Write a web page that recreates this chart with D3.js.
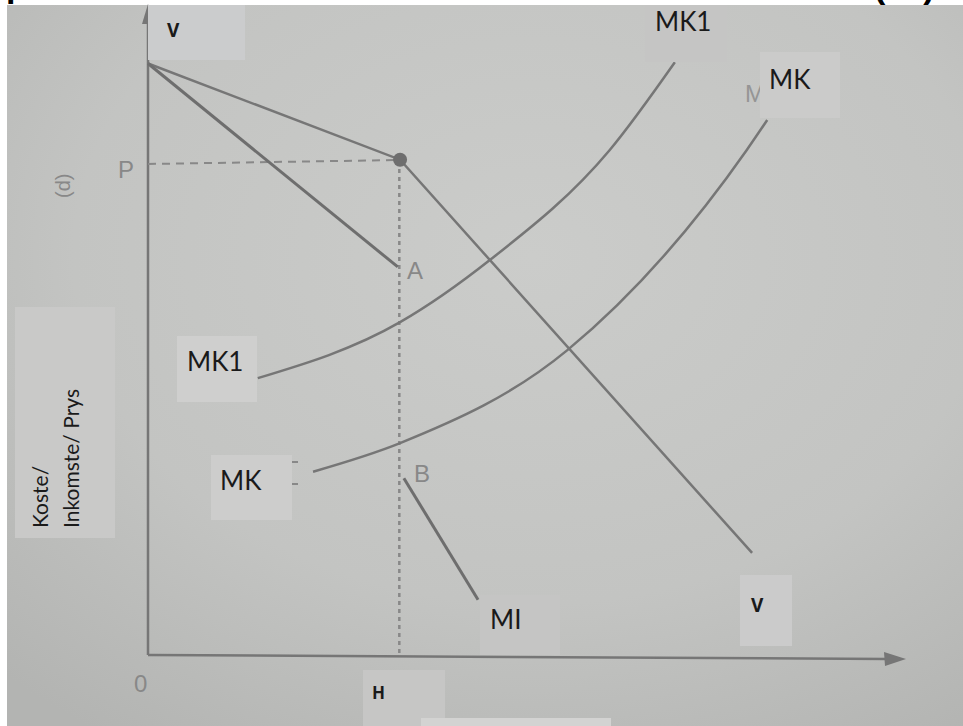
<!DOCTYPE html>
<html>
<head>
<meta charset="utf-8">
<script src="https://cdn.jsdelivr.net/npm/d3@7"></script>
<style>
  body { margin: 0; background: #fff; }
  svg { display: block; }
</style>
</head>
<body>
<div id="chart"></div>
<script>
// values (quantity 0-100 across, price 0-100 up)
var demandPts = [[0, 91], [33.3, 76.2], [79.8, 15.7]];
var mrUpper = [[0, 91], [33.0, 59.7]];
var mrLower = [[33.8, 27.2], [43.6, 8.5]];
var mk1Pts = [[14.5, 42.6], [33.3, 51.2], [45.2, 60.8], [61.0, 77.7], [69.6, 91.2]];
var mkPts = [[21.8, 28.2], [33.3, 32.6], [55.4, 46.9], [79.1, 77.7], [81.8, 82.3]];
var priceP = 76;
var qtyH = 33.2;

var w = 963;
var h = 726;

var x = d3.scaleLinear().domain([0, 100]).range([148, 905]);
var y = d3.scaleLinear().domain([0, 100]).range([655, 5]);

var svg = d3.select("#chart")
            .append("svg")
            .attr("width", w)
            .attr("height", h);

var defs = svg.append("defs");
var bg = defs.append("radialGradient")
             .attr("id", "paper")
             .attr("cx", "0.55").attr("cy", "0.35").attr("r", "0.8");
bg.append("stop").attr("offset", "0%").attr("stop-color", "#cbccca");
bg.append("stop").attr("offset", "60%").attr("stop-color", "#c3c4c2");
bg.append("stop").attr("offset", "100%").attr("stop-color", "#b3b4b2");

svg.append("rect").attr("width", w).attr("height", h).attr("fill", "#fff");
svg.append("rect")
   .attr("x", 7).attr("y", 5)
   .attr("width", w - 7).attr("height", h - 5)
   .attr("fill", "url(#paper)");

// cropped heading bits at the very top
svg.append("text").attr("x", 6).attr("y", -3)
   .style("font", "bold 34px 'Liberation Sans'").text("p");
svg.append("text").attr("x", 874).attr("y", -2)
   .style("font", "bold 34px 'Liberation Sans'").text("(10)");

var ink = "#767676";
var line = d3.line().x(function(d) { return x(d[0]); }).y(function(d) { return y(d[1]); });
var curve = d3.line().curve(d3.curveMonotoneX)
              .x(function(d) { return x(d[0]); }).y(function(d) { return y(d[1]); });

// axes
svg.append("line").attr("x1", x(0)).attr("y1", y(0)).attr("x2", x(0)).attr("y2", 18)
   .attr("stroke", ink).attr("stroke-width", 2.5);
svg.append("path").attr("d", "M" + x(0) + ",4 L" + (x(0) - 6) + ",24 L" + (x(0) + 6) + ",24 Z")
   .attr("fill", ink);
svg.append("line").attr("x1", x(0)).attr("y1", y(0)).attr("x2", 888).attr("y2", y(0) + 4)
   .attr("stroke", ink).attr("stroke-width", 2.5);
svg.append("path").attr("d", "M906,659 L884,652 L885,666 Z").attr("fill", ink);

// dashed guides
svg.append("line").attr("x1", x(0)).attr("y1", y(priceP) + 3).attr("x2", x(qtyH)).attr("y2", y(priceP) - 1)
   .attr("stroke", "#888").attr("stroke-width", 2).attr("stroke-dasharray", "8,6");
svg.append("line").attr("x1", x(qtyH)).attr("y1", y(priceP)).attr("x2", x(qtyH)).attr("y2", y(0))
   .attr("stroke", "#888").attr("stroke-width", 2.5).attr("stroke-dasharray", "4,4");

// curves
svg.append("path").attr("d", line(demandPts)).attr("fill", "none").attr("stroke", ink).attr("stroke-width", 2.5);
svg.append("path").attr("d", line(mrUpper)).attr("fill", "none").attr("stroke", "#6e6e6e").attr("stroke-width", 3);
svg.append("path").attr("d", line(mrLower)).attr("fill", "none").attr("stroke", "#6e6e6e").attr("stroke-width", 3);
svg.append("path").attr("d", curve(mk1Pts)).attr("fill", "none").attr("stroke", ink).attr("stroke-width", 2.5);
svg.append("path").attr("d", curve(mkPts)).attr("fill", "none").attr("stroke", ink).attr("stroke-width", 2.5);

svg.append("circle").attr("cx", x(demandPts[1][0])).attr("cy", y(demandPts[1][1])).attr("r", 7)
   .attr("fill", "#6e6e6e");

// faint printed labels
var grey = "#888";
svg.append("text").attr("x", 118).attr("y", 178).style("font", "24px 'Liberation Sans'").attr("fill", grey).text("P");
svg.append("text").attr("x", 407).attr("y", 279).style("font", "24px 'Liberation Sans'").attr("fill", grey).text("A");
svg.append("text").attr("x", 414).attr("y", 482).style("font", "24px 'Liberation Sans'").attr("fill", grey).text("B");
svg.append("text").attr("x", 134).attr("y", 692).style("font", "24px 'Liberation Sans'").attr("fill", grey).text("0");
svg.append("text").attr("transform", "translate(70,198) rotate(-90)")
   .style("font", "20px 'Liberation Sans'").attr("fill", grey).text("(d)");
svg.append("text").attr("x", 745).attr("y", 102).style("font", "24px 'Liberation Sans'").attr("fill", "#959595").text("M");
svg.append("line").attr("x1", 290).attr("y1", 462).attr("x2", 298).attr("y2", 462).attr("stroke", "#888").attr("stroke-width", 2);
svg.append("line").attr("x1", 290).attr("y1", 484).attr("x2", 298).attr("y2", 484).attr("stroke", "#888").attr("stroke-width", 2);

// pasted label boxes
var boxes = [
  {x: 148, y: 5, w: 97, h: 55, t: "V", tx: 167, ty: 37, f: "bold 19px 'Open Sans'", c: "#cbcccd"},
  {x: 645, y: 5, w: 82, h: 57, t: "MK1", tx: 655, ty: 31, f: "26px Lato", c: "#c5c5c4"},
  {x: 760, y: 52, w: 80, h: 66, t: "MK", tx: 769, ty: 89, f: "26px Lato", c: "#cbcbca"},
  {x: 177, y: 336, w: 80, h: 66, t: "MK1", tx: 187, ty: 371, f: "26px Lato", c: "#cfcfce"},
  {x: 211, y: 455, w: 81, h: 65, t: "MK", tx: 220, ty: 490, f: "26px Lato", c: "#cdcdcc"},
  {x: 480, y: 595, w: 80, h: 60, t: "MI", tx: 490, ty: 629, f: "26px Lato", c: "#c5c5c4"},
  {x: 740, y: 575, w: 52, h: 71, t: "V", tx: 751, ty: 612, f: "bold 19px 'Open Sans'", c: "#cbcbcb"},
  {x: 363, y: 670, w: 82, h: 56, t: "H", tx: 372, ty: 699, f: "bold 17px 'Open Sans'", c: "#c6c6c5"},
  {x: 421, y: 718, w: 190, h: 8, t: "", tx: 0, ty: 0, f: "", c: "#d3d3d2"}
];
var g = svg.selectAll("g.box").data(boxes).enter().append("g").attr("class", "box");
g.append("rect")
 .attr("x", function(d) { return d.x; }).attr("y", function(d) { return d.y; })
 .attr("width", function(d) { return d.w; }).attr("height", function(d) { return d.h; })
 .attr("fill", function(d) { return d.c; });
g.append("text")
 .attr("x", function(d) { return d.tx; }).attr("y", function(d) { return d.ty; })
 .style("font", function(d) { return d.f; })
 .attr("fill", "#1a1a1a")
 .text(function(d) { return d.t; });

// axis title box
svg.append("rect").attr("x", 15).attr("y", 307).attr("width", 100).attr("height", 231).attr("fill", "#c9c9c8");
var yt = svg.append("text").attr("transform", "translate(48,528) rotate(-90)")
            .style("font", "21px Lato").attr("fill", "#1a1a1a");
yt.append("tspan").attr("x", 0).attr("dy", 0).text("Koste/");
yt.append("tspan").attr("x", 0).attr("dy", 31).text("Inkomste/ Prys");
</script>
</body>
</html>
